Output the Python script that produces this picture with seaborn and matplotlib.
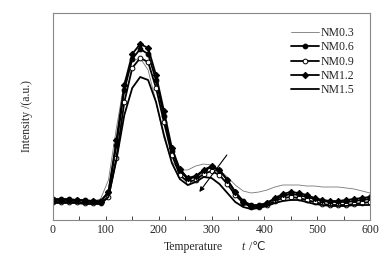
import numpy as np
import pandas as pd
import matplotlib
matplotlib.use("Agg")
import matplotlib.pyplot as plt
import seaborn as sns

# Data (temperature every 15 C, intensity in a.u.)
temp = list(range(0, 601, 15))

nm03 = [20, 20, 20, 19, 19, 19, 21, 40, 92, 138, 159, 162, 150, 118, 82, 58, 50, 50, 54, 56, 55,
        50, 43, 35, 29, 27, 28, 30, 33, 35, 35, 35, 34, 34, 33, 33, 33, 32, 31, 29, 27]
nm06 = [21, 21, 21, 20, 20, 19, 19, 28, 75, 130, 161, 171, 166, 140, 104, 69, 49, 41, 43, 49, 53,
        50, 40, 28, 19, 15, 15, 17, 21, 24, 26, 25, 23, 21, 19, 18, 18, 18, 19, 20, 21]
nm09 = [18, 18, 18, 18, 17, 17, 17, 23, 62, 118, 152, 162, 158, 132, 98, 65, 45, 38, 40, 46, 49,
        45, 36, 25, 17, 13, 13, 15, 19, 22, 23, 22, 20, 18, 16, 15, 15, 15, 16, 17, 18]
nm12 = [20, 20, 20, 20, 19, 19, 18, 28, 80, 135, 166, 176, 172, 145, 109, 72, 51, 42, 44, 50, 54,
        50, 40, 28, 18, 14, 14, 17, 22, 26, 28, 27, 25, 22, 20, 19, 19, 20, 21, 22, 23]
nm15 = [17, 17, 17, 17, 16, 16, 16, 23, 60, 105, 132, 143, 140, 118, 85, 57, 41, 35, 38, 43, 42,
        36, 27, 18, 13, 11, 12, 14, 17, 19, 20, 20, 18, 16, 15, 14, 14, 14, 15, 15, 15]

labels = ["NM0.3", "NM0.6", "NM0.9", "NM1.2", "NM1.5"]
series = [nm03, nm06, nm09, nm12, nm15]

df = pd.DataFrame({"temp": temp * 5,
                   "intensity": sum(series, []),
                   "sample": np.repeat(labels, len(temp))})

sns.set_style("white")
plt.rcParams["font.family"] = ["Liberation Serif", "DejaVu Sans"]
plt.rcParams["font.size"] = 8.5

fig = plt.figure(figsize=(3.9, 2.6), dpi=100)
ax = fig.add_axes([53 / 390, 40 / 260, 317 / 390, 207 / 260])

styles = {
    "NM0.3": dict(color="#777777", lw=0.6),
    "NM0.6": dict(color="black", lw=1.3, marker="o", ms=3.4, mfc="black", mec="black"),
    "NM0.9": dict(color="black", lw=1.3, marker="o", ms=3.4, mfc="white", mec="black", mew=0.7),
    "NM1.2": dict(color="black", lw=1.3, marker="D", ms=3.2, mfc="black", mec="black"),
    "NM1.5": dict(color="black", lw=1.3),
}

for name in labels:
    sub = df[df["sample"] == name]
    sns.lineplot(data=sub, x="temp", y="intensity", ax=ax, label=name, **styles[name])

# arrow showing the shift of the second peak
ax.annotate("", xy=(277, 28), xytext=(329, 65),
            arrowprops=dict(arrowstyle="-|>", color="black", lw=0.8,
                            mutation_scale=7, shrinkA=0, shrinkB=0))

ax.set_xlim(0, 600)
ax.set_ylim(0, 207)
ax.set_xticks(range(0, 601, 100))
ax.set_xticks(range(50, 600, 100), minor=True)
ax.set_yticks([])
ax.tick_params(axis="x", which="both", direction="in", length=3, width=0.7,
               color="#444444", labelsize=8.5, pad=3, bottom=True, top=False)

for sp in ax.spines.values():
    sp.set_color("#888888")
    sp.set_linewidth(0.8)

ax.set_xlabel("")
ax.set_ylabel("Intensity /(a.u.)", fontsize=8.5)
ax.yaxis.set_label_coords(-0.062, 0.5)

fig.text(193 / 390, 13 / 260, "Temperature", ha="center", va="center", fontsize=8.5)
fig.text(241 / 390, 13 / 260, "t", ha="left", va="center", fontsize=8.5, style="italic")
fig.text(246 / 390, 13 / 260, " /\u2103", ha="left", va="center", fontsize=8.5)

leg = ax.legend(loc="upper right", bbox_to_anchor=(354 / 390, 1 - 27 / 260),
                bbox_transform=fig.transFigure, frameon=False, fontsize=8.5,
                handlelength=2.4, handletextpad=0.1, labelspacing=0.2,
                borderpad=0, borderaxespad=0)

fig.savefig("out.png", dpi=100)
